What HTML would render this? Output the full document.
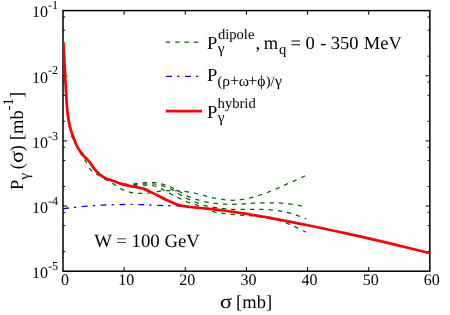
<!DOCTYPE html>
<html><head><meta charset="utf-8"><title>P_gamma(sigma)</title>
<style>
html,body{margin:0;padding:0;background:#fff;}
body{width:450px;height:315px;overflow:hidden;font-family:"Liberation Serif",serif;}
svg{display:block;will-change:transform;}
text{font-family:"Liberation Serif",serif;fill:#000;text-rendering:geometricPrecision;}
</style></head><body>
<svg width="450" height="315" viewBox="0 0 450 315">
<rect x="0" y="0" width="450" height="315" fill="#fff"/>
<defs><clipPath id="plot"><rect x="63.00" y="10.60" width="366.85" height="260.60"/></clipPath></defs>
<g stroke="#000" stroke-width="1" fill="none">
<path d="M124.14 271.20V267.00 M124.14 10.60V14.80"/>
<path d="M185.28 271.20V267.00 M185.28 10.60V14.80"/>
<path d="M246.43 271.20V267.00 M246.43 10.60V14.80"/>
<path d="M307.57 271.20V267.00 M307.57 10.60V14.80"/>
<path d="M368.71 271.20V267.00 M368.71 10.60V14.80"/>
<path d="M63.00 16.91H65.20 M429.85 16.91H427.65"/>
<path d="M63.00 30.21H65.20 M429.85 30.21H427.65"/>
<path d="M63.00 56.14H65.20 M429.85 56.14H427.65"/>
<path d="M63.00 75.75H67.20 M429.85 75.75H425.65"/>
<path d="M63.00 82.06H65.20 M429.85 82.06H427.65"/>
<path d="M63.00 95.36H65.20 M429.85 95.36H427.65"/>
<path d="M63.00 121.29H65.20 M429.85 121.29H427.65"/>
<path d="M63.00 140.90H67.20 M429.85 140.90H425.65"/>
<path d="M63.00 147.21H65.20 M429.85 147.21H427.65"/>
<path d="M63.00 160.51H65.20 M429.85 160.51H427.65"/>
<path d="M63.00 186.44H65.20 M429.85 186.44H427.65"/>
<path d="M63.00 206.05H67.20 M429.85 206.05H425.65"/>
<path d="M63.00 212.36H65.20 M429.85 212.36H427.65"/>
<path d="M63.00 225.66H65.20 M429.85 225.66H427.65"/>
<path d="M63.00 251.59H65.20 M429.85 251.59H427.65"/>
</g>
<rect x="63.00" y="10.60" width="366.85" height="260.60" fill="none" stroke="#000" stroke-width="1.5"/>
<g clip-path="url(#plot)" fill="none">
<path d="M63.00 208.90 C63.95 208.75 66.70 208.27 68.70 208.00 C70.70 207.73 72.37 207.58 75.00 207.30 C77.63 207.02 81.33 206.60 84.50 206.30 C87.67 206.00 90.92 205.70 94.00 205.50 C97.08 205.30 99.88 205.23 103.00 205.10 C106.12 204.97 109.53 204.80 112.70 204.70 C115.87 204.60 119.12 204.55 122.00 204.50 C124.88 204.45 127.00 204.38 130.00 204.40 C133.00 204.42 136.67 204.50 140.00 204.60 C143.33 204.70 145.83 204.83 150.00 205.00 C154.17 205.17 159.92 205.43 165.00 205.60 C170.08 205.77 177.92 205.93 180.50 206.00" stroke="#0000ff" stroke-width="1.3" stroke-dasharray="5.9 5.2 2.2 5.6"/>
<path d="M84.90 159.50 C84.35 158.68 82.75 156.45 81.60 154.60 C80.45 152.75 79.17 150.52 78.00 148.40 C76.83 146.28 75.55 143.70 74.60 141.90 C73.65 140.10 73.03 139.50 72.30 137.60 C71.57 135.70 70.77 132.52 70.20 130.50 C69.63 128.48 69.12 126.33 68.90 125.50" stroke="#006400" stroke-width="1.25" stroke-dasharray="4.4 4.95" stroke-dashoffset="4.4"/>
<path d="M133.40 184.70 C132.50 184.78 129.15 185.28 128.00 185.20 C126.85 185.12 127.73 184.53 126.50 184.20 C125.27 183.87 123.18 183.83 120.60 183.20 C118.02 182.57 113.93 181.40 111.00 180.40 C108.07 179.40 105.23 178.43 103.00 177.20 C100.77 175.97 99.40 174.70 97.60 173.00 C95.80 171.30 93.55 168.73 92.20 167.00 C90.85 165.27 90.43 164.00 89.50 162.60 C88.57 161.20 87.70 160.10 86.60 158.60 C85.50 157.10 83.92 154.87 82.90 153.60 C81.88 152.33 81.27 151.83 80.50 151.00 C79.73 150.17 79.27 150.27 78.30 148.60 C77.33 146.93 75.30 142.27 74.70 141.00" stroke="#006400" stroke-width="1.25" stroke-dasharray="4.4 4.95" stroke-dashoffset="4.4"/>
<path d="M84.90 159.50 C85.03 159.78 84.75 159.50 85.70 161.20 C86.65 162.90 88.60 167.43 90.60 169.70 C92.60 171.97 95.22 173.18 97.70 174.80 C100.18 176.42 102.78 177.82 105.50 179.40 C108.22 180.98 111.25 182.63 114.00 184.30 C116.75 185.97 119.23 188.05 122.00 189.40 C124.77 190.75 127.65 191.75 130.60 192.40 C133.55 193.05 136.47 193.23 139.70 193.30 C142.93 193.37 146.82 193.13 150.00 192.80 C153.18 192.47 156.30 191.65 158.80 191.30 C161.30 190.95 162.80 190.80 165.00 190.70 C167.20 190.60 169.62 190.67 172.00 190.70 C174.38 190.73 176.75 190.72 179.30 190.90 C181.85 191.08 184.48 191.37 187.30 191.80 C190.12 192.23 193.25 192.83 196.20 193.50 C199.15 194.17 202.03 195.05 205.00 195.80 C207.97 196.55 210.95 197.38 214.00 198.00 C217.05 198.62 220.18 199.12 223.30 199.50 C226.42 199.88 229.58 200.30 232.70 200.30 C235.82 200.30 238.87 199.93 242.00 199.50 C245.13 199.07 248.47 198.45 251.50 197.70 C254.53 196.95 257.35 195.95 260.20 195.00 C263.05 194.05 265.68 193.12 268.60 192.00 C271.52 190.88 274.78 189.57 277.70 188.30 C280.62 187.03 283.25 185.68 286.10 184.40 C288.95 183.12 291.95 181.88 294.80 180.60 C297.65 179.32 301.28 177.58 303.20 176.70 C305.12 175.82 305.78 175.53 306.30 175.30" stroke="#006400" stroke-width="1.25" stroke-dasharray="4.4 4.95"/>
<path d="M133.40 183.80 C133.78 183.75 133.83 183.72 135.70 183.50 C137.57 183.28 141.50 182.65 144.60 182.50 C147.70 182.35 151.25 182.32 154.30 182.60 C157.35 182.88 160.07 183.42 162.90 184.20 C165.73 184.98 168.57 186.08 171.30 187.30 C174.03 188.52 176.55 190.02 179.30 191.50 C182.05 192.98 184.98 194.90 187.80 196.20 C190.62 197.50 193.25 198.37 196.20 199.30 C199.15 200.23 202.27 201.12 205.50 201.80 C208.73 202.48 212.37 203.00 215.60 203.40 C218.83 203.80 221.80 204.05 224.90 204.20 C228.00 204.35 231.10 204.35 234.20 204.30 C237.30 204.25 240.37 204.08 243.50 203.90 C246.63 203.72 249.85 203.38 253.00 203.20 C256.15 203.02 259.27 202.87 262.40 202.80 C265.53 202.73 268.68 202.75 271.80 202.80 C274.92 202.85 277.95 202.87 281.10 203.10 C284.25 203.33 287.53 203.77 290.70 204.20 C293.87 204.63 297.47 205.23 300.10 205.70 C302.73 206.17 305.43 206.78 306.50 207.00" stroke="#006400" stroke-width="1.25" stroke-dasharray="4.4 4.95"/>
<path d="M133.40 184.70 C133.78 184.65 133.83 184.55 135.70 184.40 C137.57 184.25 141.50 183.87 144.60 183.80 C147.70 183.73 151.25 183.67 154.30 184.00 C157.35 184.33 160.07 184.95 162.90 185.80 C165.73 186.65 168.52 187.67 171.30 189.10 C174.08 190.53 176.85 192.77 179.60 194.40 C182.35 196.03 185.03 197.57 187.80 198.90 C190.57 200.23 193.38 201.28 196.20 202.40 C199.02 203.52 201.73 204.78 204.70 205.60 C207.67 206.42 210.90 206.82 214.00 207.30 C217.10 207.78 220.18 208.17 223.30 208.50 C226.42 208.83 229.58 209.17 232.70 209.30 C235.82 209.43 238.73 209.30 242.00 209.30 C245.27 209.30 249.10 209.30 252.30 209.30 C255.50 209.30 258.17 209.22 261.20 209.30 C264.23 209.38 267.38 209.53 270.50 209.80 C273.62 210.07 276.83 210.40 279.90 210.90 C282.97 211.40 285.90 212.00 288.90 212.80 C291.90 213.60 295.00 214.70 297.90 215.70 C300.80 216.70 304.90 218.28 306.30 218.80" stroke="#006400" stroke-width="1.25" stroke-dasharray="4.4 4.95"/>
<path d="M133.40 185.40 C133.78 185.37 133.83 185.25 135.70 185.20 C137.57 185.15 141.50 184.97 144.60 185.10 C147.70 185.23 151.40 185.33 154.30 186.00 C157.20 186.67 159.32 187.80 162.00 189.10 C164.68 190.40 167.58 192.32 170.40 193.80 C173.22 195.28 176.15 196.67 178.90 198.00 C181.65 199.33 184.13 200.68 186.90 201.80 C189.67 202.92 192.65 203.67 195.50 204.70 C198.35 205.73 201.05 206.85 204.00 208.00 C206.95 209.15 210.10 210.72 213.20 211.60 C216.30 212.48 219.48 212.83 222.60 213.30 C225.72 213.77 228.80 214.08 231.90 214.40 C235.00 214.72 238.18 215.00 241.20 215.20 C244.22 215.40 246.87 215.32 250.00 215.60 C253.13 215.88 256.67 216.43 260.00 216.90 C263.33 217.37 267.00 217.87 270.00 218.40 C273.00 218.93 275.17 219.28 278.00 220.10 C280.83 220.92 284.10 222.17 287.00 223.30 C289.90 224.43 292.55 225.57 295.40 226.90 C298.25 228.23 302.33 230.40 304.10 231.30 C305.87 232.20 305.68 232.13 306.00 232.30" stroke="#006400" stroke-width="1.25" stroke-dasharray="4.4 4.95"/>
<path d="M63.40 42.00 C63.50 44.17 63.80 51.17 64.00 55.00 C64.20 58.83 64.43 62.17 64.60 65.00 C64.77 67.83 64.82 68.50 65.00 72.00 C65.18 75.50 65.45 81.33 65.70 86.00 C65.95 90.67 66.28 96.50 66.50 100.00 C66.72 103.50 66.80 104.67 67.00 107.00 C67.20 109.33 67.43 111.83 67.70 114.00 C67.97 116.17 68.27 118.08 68.60 120.00 C68.93 121.92 69.30 123.78 69.70 125.50 C70.10 127.22 70.47 128.55 71.00 130.30 C71.53 132.05 72.25 134.18 72.90 136.00 C73.55 137.82 74.30 139.67 74.90 141.20 C75.50 142.73 75.93 143.97 76.50 145.20 C77.07 146.43 77.63 147.47 78.30 148.60 C78.97 149.73 79.67 150.83 80.50 152.00 C81.33 153.17 82.28 154.47 83.30 155.60 C84.32 156.73 85.57 157.73 86.60 158.80 C87.63 159.87 88.57 160.82 89.50 162.00 C90.43 163.18 91.28 164.63 92.20 165.90 C93.12 167.17 94.10 168.52 95.00 169.60 C95.90 170.68 96.72 171.53 97.60 172.40 C98.48 173.27 99.40 174.07 100.30 174.80 C101.20 175.53 102.05 176.20 103.00 176.80 C103.95 177.40 104.67 177.83 106.00 178.40 C107.33 178.97 109.33 179.60 111.00 180.20 C112.67 180.80 114.40 181.43 116.00 182.00 C117.60 182.57 118.93 183.08 120.60 183.60 C122.27 184.12 124.10 184.62 126.00 185.10 C127.90 185.58 130.08 186.12 132.00 186.50 C133.92 186.88 135.50 187.00 137.50 187.40 C139.50 187.80 141.83 188.15 144.00 188.90 C146.17 189.65 148.10 190.75 150.50 191.90 C152.90 193.05 155.82 194.48 158.40 195.80 C160.98 197.12 163.40 198.55 166.00 199.80 C168.60 201.05 171.55 202.33 174.00 203.30 C176.45 204.27 178.03 204.98 180.70 205.60 C183.37 206.22 186.78 206.60 190.00 207.00 C193.22 207.40 196.33 207.63 200.00 208.00 C203.67 208.37 208.12 208.78 212.00 209.20 C215.88 209.62 219.47 210.02 223.30 210.50 C227.13 210.98 231.10 211.53 235.00 212.10 C238.90 212.67 242.87 213.28 246.70 213.90 C250.53 214.52 254.12 215.12 258.00 215.80 C261.88 216.48 265.50 217.12 270.00 217.95 C274.50 218.77 280.55 219.89 285.00 220.75 C289.45 221.61 290.87 221.94 296.70 223.10 C302.53 224.26 312.78 226.22 320.00 227.70 C327.22 229.18 333.00 230.47 340.00 232.00 C347.00 233.53 353.17 234.88 362.00 236.90 C370.83 238.92 381.82 241.42 393.00 244.10 C404.18 246.78 423.08 251.52 429.10 253.00" stroke="#ff0000" stroke-width="2.7" stroke-linejoin="round"/>
</g>
<path d="M165.8 42H202" stroke="#006400" stroke-width="1.25" stroke-dasharray="4.4 4.95" fill="none"/>
<path d="M166.1 76.4H202" stroke="#0000ff" stroke-width="1.3" stroke-dasharray="5.9 5.2 2.2 5.6" fill="none"/>
<path d="M165.8 111.1H202" stroke="#ff0000" stroke-width="2.6" fill="none"/>
<text x="65.00" y="285" font-size="16" text-anchor="middle">0</text>
<text x="126.14" y="285" font-size="16" text-anchor="middle">10</text>
<text x="187.28" y="285" font-size="16" text-anchor="middle">20</text>
<text x="248.43" y="285" font-size="16" text-anchor="middle">30</text>
<text x="309.57" y="285" font-size="16" text-anchor="middle">40</text>
<text x="370.71" y="285" font-size="16" text-anchor="middle">50</text>
<text x="431.85" y="285" font-size="16" text-anchor="middle">60</text>
<text x="48" y="17.40" font-size="16" text-anchor="end">10</text>
<text x="48.0" y="9.20" font-size="12.2">-1</text>
<text x="48" y="82.55" font-size="16" text-anchor="end">10</text>
<text x="48.0" y="74.35" font-size="12.2">-2</text>
<text x="48" y="147.70" font-size="16" text-anchor="end">10</text>
<text x="48.0" y="139.50" font-size="12.2">-3</text>
<text x="48" y="212.85" font-size="16" text-anchor="end">10</text>
<text x="48.0" y="204.65" font-size="12.2">-4</text>
<text x="48" y="278.00" font-size="16" text-anchor="end">10</text>
<text x="48.0" y="269.80" font-size="12.2">-5</text>
<text x="220.0" y="308.4" font-size="20" textLength="12.1" lengthAdjust="spacingAndGlyphs">σ</text>
<text x="236.1" y="308.1" font-size="18.5">[mb]</text>
<g transform="translate(23.3,189.9) rotate(-90)"><text y="0" font-size="18.5"><tspan x="0">P</tspan><tspan x="10.1" dy="5.3" font-size="15.4">γ</tspan><tspan x="20.7" dy="-5.3">(</tspan><tspan x="26.9" font-size="20" textLength="12.1" lengthAdjust="spacingAndGlyphs">σ</tspan><tspan x="38.7">)</tspan><tspan x="49.8">[mb</tspan><tspan dy="-10" font-size="14.6">-1</tspan><tspan dy="10">]</tspan></text></g>
<text x="94.2" y="246.7" font-size="18.8">W = 100 GeV</text>
<text x="206.9" y="48.6" font-size="18.5">P</text>
<text x="217.9" y="38.7" font-size="14.6">dipole</text>
<text x="217.7" y="53.3" font-size="15.4">γ</text>
<text x="255.5 260.0 263.85" y="48.6" font-size="18.5">, m</text>
<text x="278.9" y="53.9" font-size="14.6">q</text>
<text y="48.6" font-size="18.5"><tspan x="290.4">=</tspan><tspan x="305.5">0</tspan><tspan x="320.3">-</tspan><tspan x="330.8">350</tspan><tspan x="363.8">MeV</tspan></text>
<text x="206.9" y="80.6" font-size="18.5">P</text>
<text y="85.8" font-size="14.6" x="217.6 222.3 229.9 238.8 248.1 257.3 265.8 270.5 274.9">(<tspan font-size="15.6">ρ</tspan><tspan font-size="16.4">+</tspan><tspan font-size="15.6">ω</tspan><tspan font-size="16.4">+</tspan><tspan font-size="15.6">ϕ</tspan>)/<tspan font-size="15.6">γ</tspan></text>
<text x="206.9" y="117.7" font-size="18.5">P</text>
<text x="217.6" y="107.9" font-size="14.6">hybrid</text>
<text x="217.7" y="122.3" font-size="15.4">γ</text>
</svg></body></html>
